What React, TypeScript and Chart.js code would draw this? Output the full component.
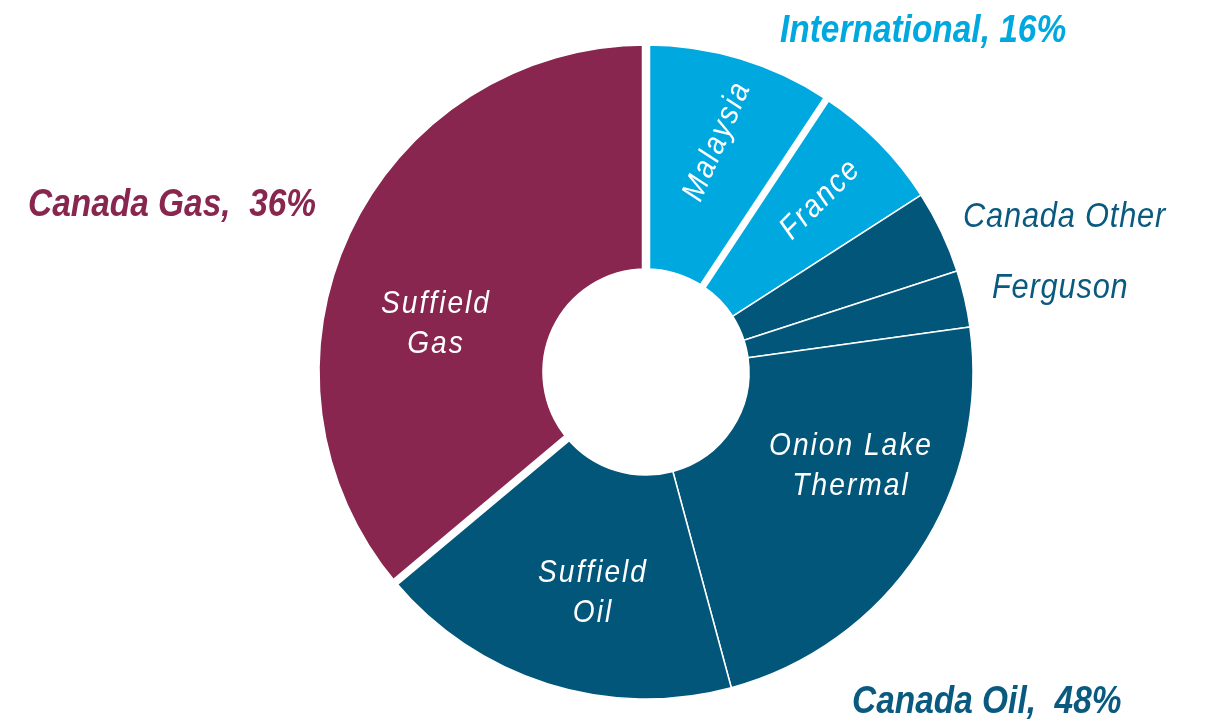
import React, { useEffect, useRef } from 'react';
import { Chart, registerables } from 'chart.js';

Chart.register(...registerables);

// ---- data ----
const segments = ['Malaysia', 'France', 'Canada Other', 'Ferguson', 'Onion Lake Thermal', 'Suffield Oil', 'Suffield Gas'];
const shares = [9.3, 6.6, 4.1, 2.8, 23.0, 18.1, 36.1];
const segmentGroup = ['International', 'International', 'Canada Oil', 'Canada Oil', 'Canada Oil', 'Canada Oil', 'Canada Gas'];
const groupNames = ['International', 'Canada Gas', 'Canada Oil'];
const groupShares = [16, 36, 48];

// ---- style ----
const groupColors: Record<string, string> = {
  'International': '#00A8E0',
  'Canada Gas': '#88264F',
  'Canada Oil': '#02567A',
};
const groupTextColors: Record<string, string> = {
  'International': '#00A8E0',
  'Canada Gas': '#88264F',
  'Canada Oil': '#0A5A80',
};
// white separator drawn at the end of each segment (0 = thin default border only)
const separatorWidths = [7, 0, 0, 0, 0, 8, 8.5];

const FAMILY = '"Liberation Sans", Arial, sans-serif';
const CONDENSE = 0.88;

// inside labels: offsets from chart centre (px), rotation (deg)
const insideLabels = [
  { seg: 'Malaysia', lines: ['Malaysia'], dx: 71, dy: -230, rot: -66.5, mid: true },
  { seg: 'France', lines: ['France'], dx: 174, dy: -172, rot: -45, mid: true },
  { seg: 'Suffield Gas', lines: ['Suffield', 'Gas'], dx: -211, dy: -59, rot: 0, mid: false },
  { seg: 'Onion Lake Thermal', lines: ['Onion Lake', 'Thermal'], dx: 204, dy: 83, rot: 0, mid: false },
  { seg: 'Suffield Oil', lines: ['Suffield', 'Oil'], dx: -54, dy: 210, rot: 0, mid: false },
];
const insideLineGap = 40;

// outside labels: left x / baseline offsets from chart centre
const groupLabelPos: Record<string, [number, number]> = {
  'International': [134, -330],
  'Canada Gas': [-618, -156],
  'Canada Oil': [206, 341],
};
const sideLabels = [
  { text: 'Canada Other', dx: 317, dy: -145 },
  { text: 'Ferguson', dx: 346, dy: -74 },
];

function drawText(
  ctx: CanvasRenderingContext2D,
  text: string,
  x: number,
  y: number,
  opts: { font: string; color: string; spacing: number; align: CanvasTextAlign; baseline: CanvasTextBaseline; rot?: number }
) {
  ctx.save();
  ctx.translate(x, y);
  if (opts.rot) ctx.rotate((opts.rot * Math.PI) / 180);
  ctx.scale(CONDENSE, 1);
  ctx.font = opts.font;
  ctx.fillStyle = opts.color;
  (ctx as any).letterSpacing = `${opts.spacing / CONDENSE}px`;
  ctx.textAlign = opts.align;
  ctx.textBaseline = opts.baseline;
  let dx = 0;
  if (opts.align === 'center' && opts.spacing) dx = opts.spacing / CONDENSE / 2;
  ctx.fillText(text, dx, 0);
  ctx.restore();
}

const labelPlugin = {
  id: 'customLabels',
  afterDatasetsDraw(chart: any) {
    const ctx: CanvasRenderingContext2D = chart.ctx;
    const meta = chart.getDatasetMeta(0);
    const arcs = meta.data;
    if (!arcs.length) return;
    const cx = arcs[0].x;
    const cy = arcs[0].y;

    // separators
    arcs.forEach((arc: any, i: number) => {
      const w = separatorWidths[i];
      if (!w) return;
      const a = arc.endAngle;
      const r0 = arc.innerRadius - 2;
      const r1 = arc.outerRadius + 3;
      ctx.save();
      ctx.strokeStyle = '#ffffff';
      ctx.lineWidth = w;
      ctx.lineCap = 'butt';
      ctx.beginPath();
      ctx.moveTo(cx + Math.cos(a) * r0, cy + Math.sin(a) * r0);
      ctx.lineTo(cx + Math.cos(a) * r1, cy + Math.sin(a) * r1);
      ctx.stroke();
      ctx.restore();
    });

    // inside labels
    insideLabels.forEach((lab) => {
      lab.lines.forEach((line, k) => {
        if (lab.rot) {
          drawText(ctx, line, cx + lab.dx, cy + lab.dy, {
            font: `italic 32px ${FAMILY}`,
            color: '#ffffff',
            spacing: 2,
            align: 'center',
            baseline: 'middle',
            rot: lab.rot,
          });
        } else {
          drawText(ctx, line, cx + lab.dx, cy + lab.dy + k * insideLineGap, {
            font: `italic 32px ${FAMILY}`,
            color: '#ffffff',
            spacing: 2,
            align: 'center',
            baseline: 'alphabetic',
          });
        }
      });
    });

    // group labels
    groupNames.forEach((g, i) => {
      const [dx, dy] = groupLabelPos[g];
      const sep = g === 'International' ? ', ' : ',  ';
      drawText(ctx, `${g}${sep}${groupShares[i]}%`, cx + dx, cy + dy, {
        font: `italic bold 38px ${FAMILY}`,
        color: groupTextColors[g],
        spacing: 0,
        align: 'left',
        baseline: 'alphabetic',
      });
    });

    // side labels for thin slices
    sideLabels.forEach((s) => {
      drawText(ctx, s.text, cx + s.dx, cy + s.dy, {
        font: `italic 35px ${FAMILY}`,
        color: groupTextColors['Canada Oil'],
        spacing: 0.8,
        align: 'left',
        baseline: 'alphabetic',
      });
    });
  },
};

export default function App() {
  const ref = useRef<HTMLCanvasElement | null>(null);

  useEffect(() => {
    document.body.style.margin = '0';
    const canvas = ref.current;
    if (!canvas) return;
    const chart = new Chart(canvas, {
      type: 'doughnut',
      data: {
        labels: segments,
        datasets: [
          {
            data: shares,
            backgroundColor: segmentGroup.map((g) => groupColors[g]),
            borderColor: '#ffffff',
            borderWidth: 1.5,
            hoverOffset: 0,
          },
        ],
      },
      options: {
        responsive: false,
        animation: false,
        cutout: 103,
        rotation: 0,
        layout: {
          padding: { left: 318.25, top: 44.25, right: 232.25, bottom: 22.25 },
        },
        plugins: {
          legend: { display: false },
          tooltip: { enabled: false },
        },
      },
      plugins: [labelPlugin],
    });
    return () => chart.destroy();
  }, []);

  return (
    <div style={{ position: 'fixed', left: 0, top: 0, width: 1206, height: 722, background: '#ffffff' }}>
      <canvas ref={ref} width={1206} height={722} style={{ display: 'block', width: 1206, height: 722 }} />
    </div>
  );
}
